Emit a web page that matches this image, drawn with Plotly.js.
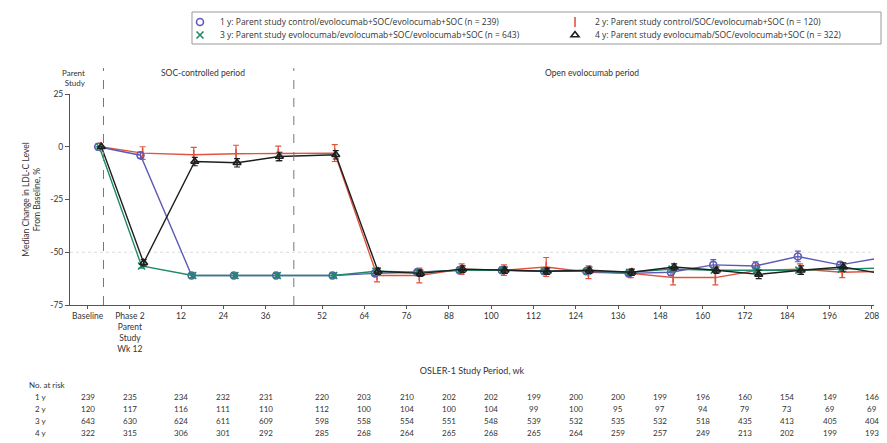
<!DOCTYPE html>
<html><head><meta charset="utf-8">
<script src="https://cdn.plot.ly/plotly-3.0.1.min.js"></script>
<style>html,body{margin:0;padding:0;background:#fff}</style>
</head><body><div id="chart" style="width:887px;height:443px"></div>
<script>
// ---- data ----
const weeks = [-14.5, -2.5, 12, 24, 36, 52, 64, 76, 88, 100, 112, 124, 136, 148, 160, 172, 184, 196, 208];
const tickLabels = ["Baseline", "Phase 2<br>Parent<br>Study<br>Wk 12", "12", "24", "36", "52", "64", "76", "88", "100", "112", "124", "136", "148", "160", "172", "184", "196", "208"];
const seriesNames = [
  "1 y: Parent study control/evolocumab+SOC/evolocumab+SOC (n = 239)",
  "2 y: Parent study control/SOC/evolocumab+SOC (n = 120)",
  "3 y: Parent study evolocumab/evolocumab+SOC/evolocumab+SOC (n = 643)",
  "4 y: Parent study evolocumab/SOC/evolocumab+SOC (n = 322)"
];
const rowLabels = ["1 y", "2 y", "3 y", "4 y"];
const median1y = [0, -4, -61, -61, -61, -61, -60, -59.5, -58.5, -58.5, -59, -59, -60, -59.5, -56, -56.5, -52, -56, -52.5];
const median2y = [0, -3, -3.8, -3.3, -3.2, -3, -61, -61, -58, -58.5, -57, -59.5, -60, -62, -62, -58.5, -58, -59.5, -59];
const median3y = [0, -56.5, -61, -61, -61, -61, -59, -59.5, -58.5, -58.5, -59, -59, -59.5, -58, -58.5, -58.5, -58.5, -58, -57.5];
const median4y = [0, -55, -7, -7.6, -4.6, -3.8, -59, -60, -58, -58.5, -59, -58.5, -59.5, -57, -58.5, -60.5, -58.5, -57, -60.5];
const err1y = [0, 1.5, 1, 1, 1, 1, 1, 1, 1, 1, 1, 1, 1, 1.5, 2.5, 2, 2.5, 1.5, 2.5];
const err2y = [0, 3, 3.5, 4, 3.5, 4, 3, 3.5, 2.5, 2.5, 4.5, 3, 2, 3.5, 3.5, 2.5, 2.5, 2.5, 2.5];
const err3y = [0, 1, 1, 1, 1, 1, 1, 1, 1, 1, 1, 1, 1, 1, 1, 1, 1, 1, 1];
const err4y = [0, 1.5, 2, 2, 2, 2, 1.5, 1.5, 1.5, 1.5, 1.5, 1.5, 1.5, 1.5, 1.5, 2, 2, 2, 2];
const risk1y = [239, 235, 234, 232, 231, 220, 203, 210, 202, 202, 199, 200, 200, 199, 196, 160, 154, 149, 146];
const risk2y = [120, 117, 116, 111, 110, 112, 100, 104, 100, 104, 99, 100, 95, 97, 94, 79, 73, 69, 69];
const risk3y = [643, 630, 624, 611, 609, 598, 558, 554, 551, 548, 539, 532, 535, 532, 518, 435, 413, 405, 404];
const risk4y = [322, 315, 306, 301, 292, 285, 268, 264, 265, 268, 265, 264, 259, 257, 249, 213, 202, 199, 193];
const yTickVals = [-75, -50, -25, 0, 25];
const yTickText = ["-75", "-50", "-25", "0", "25"];

// ---- styles ----
const FONT = "Lato, 'Open Sans', sans-serif";
const LFONT = "'Open Sans', sans-serif";
const TXT = "#333";
const colors = ["#5e5ab8", "#e0533f", "#1f8a68", "#1e1e1e"];
const symbols = ["circle-open", "line-ns-open", "x-thin-open", "triangle-up-open"];
const dodge = [3.0, 3.6, 3.3, 3.9];
const medians = [median1y, median2y, median3y, median4y];
const errs = [err1y, err2y, err3y, err4y];
const risks = [risk1y, risk2y, risk3y, risk4y];
const legendIds = ["legend", "legend2", "legend3", "legend4"];

const drawOrder = [1, 0, 2, 3];
const traces = [];
drawOrder.forEach(i => {
  traces.push({
    type: "scatter", mode: "lines+markers",
    x: weeks.map(w => w + dodge[i]), y: medians[i],
    line: {color: colors[i], width: 1.4},
    marker: {symbol: symbols[i], size: 7, color: colors[i], line: {color: colors[i], width: 1.6}},
    error_y: {type: "data", array: errs[i], visible: true, color: colors[i], thickness: 1.2, width: 3},
    showlegend: false, cliponaxis: false, hoverinfo: "skip"
  });
});
// legend-only entries
[0, 1, 2, 3].forEach(i => {
  traces.push({
    type: "scatter", mode: "markers", x: [null], y: [null], name: seriesNames[i],
    marker: {symbol: symbols[i], size: 7, color: colors[i], line: {color: colors[i], width: 1.6}},
    legend: legendIds[i], showlegend: true
  });
});

// pixel helpers
const L = 70, R = 13, T = 94, B = 138, W = 887, H = 443;
const pw = W - L - R, ph = H - T - B;
const px = v => (v - L) / pw;
const py = v => (H - B - v) / ph;

const legendFont = {family: LFONT, size: 8.5, color: TXT};
const mkLegend = (xp, yp) => ({x: px(xp), y: py(yp), xanchor: "left", yanchor: "middle",
  bgcolor: "rgba(0,0,0,0)", borderwidth: 0, font: legendFont, itemwidth: 30});

const annotations = [];
annotations.push({xref: "paper", yref: "paper", x: px(88), y: py(78), xanchor: "right", yanchor: "middle",
  text: "Parent<br>Study", showarrow: false, align: "right", font: {family: FONT, size: 8, color: TXT}});
annotations.push({xref: "paper", yref: "paper", x: px(203), y: py(73), xanchor: "center", yanchor: "middle",
  text: "SOC-controlled period", showarrow: false, font: {family: FONT, size: 8.5, color: TXT}});
annotations.push({xref: "paper", yref: "paper", x: px(592), y: py(73), xanchor: "center", yanchor: "middle",
  text: "Open evolocumab period", showarrow: false, font: {family: FONT, size: 8.5, color: TXT}});
annotations.push({xref: "paper", yref: "paper", x: px(27), y: py(385), xanchor: "left", yanchor: "middle",
  text: "No. at risk", showarrow: false, font: {family: FONT, size: 8, color: TXT}});
const rowY = [397, 409, 421, 433];
risks.forEach((r, i) => {
  annotations.push({xref: "paper", yref: "paper", x: px(33), y: py(rowY[i]), xanchor: "left", yanchor: "middle",
    text: rowLabels[i], showarrow: false, font: {family: FONT, size: 8, color: TXT}});
  r.forEach((n, j) => {
    annotations.push({xref: "x", yref: "paper", x: weeks[j], y: py(rowY[i]), xanchor: "center", yanchor: "middle",
      text: String(n), showarrow: false, font: {family: FONT, size: 8, color: TXT}});
  });
});

const shapes = [
  {type: "line", xref: "x", yref: "paper", x0: -10, x1: -10, y0: 0, y1: py(68), line: {color: "#777", width: 1, dash: "dash"}},
  {type: "line", xref: "x", yref: "paper", x0: 44, x1: 44, y0: 0, y1: py(68), line: {color: "#777", width: 1, dash: "dash"}},
  {type: "line", xref: "paper", yref: "y", x0: 0, x1: 1, y0: -50, y1: -50, line: {color: "#ddd", width: 1, dash: "dot"}, layer: "below"},
  {type: "rect", xref: "paper", yref: "paper", x0: px(192), x1: px(881), y0: py(44), y1: py(12), line: {color: "#999", width: 1}}
];

const layout = {
  width: W, height: H,
  margin: {l: L, r: R, t: T, b: B, autoexpand: false},
  paper_bgcolor: "#fff", plot_bgcolor: "#fff",
  font: {family: FONT, size: 8.5, color: TXT},
  xaxis: {
    range: [-19.5, 208.6], tickmode: "array", tickvals: weeks, ticktext: tickLabels,
    ticks: "outside", ticklen: 3, tickcolor: "#555", showline: true, linecolor: "#555", linewidth: 1,
    showgrid: false, zeroline: false, tickfont: {family: FONT, size: 8.5, color: TXT},
    title: {text: "OSLER-1 Study Period, wk", font: {family: FONT, size: 9, color: TXT}, standoff: 14}
  },
  yaxis: {
    range: [-75, 25], tickmode: "array", tickvals: yTickVals, ticktext: yTickText,
    ticks: "outside", ticklen: 4, tickcolor: "#555", showline: true, linecolor: "#555", linewidth: 1,
    showgrid: false, zeroline: false, tickfont: {family: FONT, size: 8.5, color: TXT},
    title: {text: "Median Change in LDL-C Level<br>From Baseline, %", font: {family: FONT, size: 8.5, color: TXT}, standoff: 8}
  },
  legend: mkLegend(180, 22),
  legend2: mkLegend(555, 22),
  legend3: mkLegend(180, 35),
  legend4: mkLegend(555, 35),
  annotations: annotations,
  shapes: shapes,
  showlegend: true
};

Plotly.newPlot("chart", traces, layout, {displayModeBar: false, staticPlot: true});
</script>
</body></html>
